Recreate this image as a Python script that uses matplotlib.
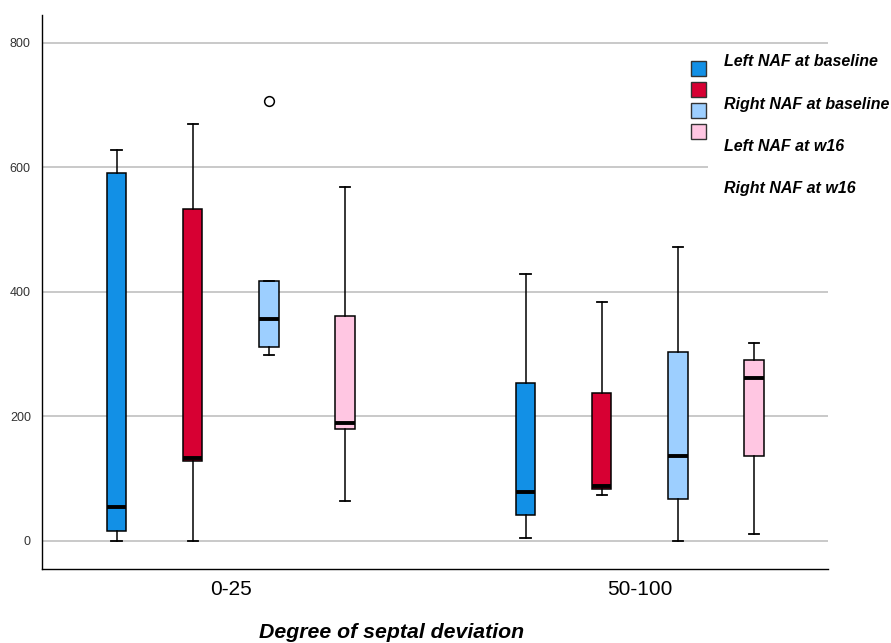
import matplotlib
matplotlib.use("Agg")
from matplotlib import pyplot as plt
import matplotlib.patches as patches

plt.rcParams['font.family'] = ['Liberation Sans', 'DejaVu Sans']

# groups and series
groups = ["0-25", "50-100"]
series = ["Left NAF at baseline", "Right NAF at baseline", "Left NAF at w16", "Right NAF at w16"]
colors = ["#1290e6", "#d70033", "#9dcfff", "#ffc6e2"]

# box stats per series, one value per group
whislo = [[0, 4], [0, 74], [298, 0], [64, 12]]
q1 = [[16, 41], [128, 83], [312, 68], [180, 137]]
med = [[55, 78], [134, 89], [357, 136], [189, 262]]
q3 = [[591, 253], [533, 237], [418, 304], [362, 290]]
whishi = [[628, 429], [670, 384], [418, 473], [568, 318]]
fliers = [[[], []], [[], []], [[707], []], [[], []]]

offsets = [-0.279, -0.093, 0.093, 0.279]
width = 0.047

fig = plt.figure(figsize=(8.91, 6.43), dpi=100)
ax = fig.add_axes([0.0471, 0.1151, 0.8822, 0.8616])

for i in range(len(series)):
    stats = []
    for g in range(len(groups)):
        stats.append({
            "whislo": whislo[i][g], "q1": q1[i][g], "med": med[i][g],
            "q3": q3[i][g], "whishi": whishi[i][g], "fliers": fliers[i][g],
        })
    pos = [g + offsets[i] for g in range(len(groups))]
    ax.bxp(stats, positions=pos, widths=width, patch_artist=True, showcaps=True,
           boxprops=dict(facecolor=colors[i], edgecolor="black", linewidth=1.1),
           medianprops=dict(color="black", linewidth=2.8),
           whiskerprops=dict(color="black", linewidth=1.1),
           capprops=dict(color="black", linewidth=1.3),
           capwidths=0.026,
           flierprops=dict(marker="o", markerfacecolor="white", markeredgecolor="black",
                           markersize=7, markeredgewidth=1.1),
           zorder=3)

ax.set_xlim(-0.462, 1.46)
ax.set_ylim(-45, 845)
ax.set_yticks([0, 200, 400, 600, 800])
ax.set_xticks(range(len(groups)))
ax.set_xticklabels(groups, fontsize=15)
ax.tick_params(axis="y", length=0, labelsize=9, labelcolor="#333333", pad=8)
ax.tick_params(axis="x", length=0, pad=8)
ax.yaxis.grid(True, color="#bbbbbb", linewidth=1.1, zorder=0)
ax.set_axisbelow(True)
for s in ["top", "right"]:
    ax.spines[s].set_visible(False)
for s in ["left", "bottom"]:
    ax.spines[s].set_linewidth(1.0)
    ax.spines[s].set_color("black")

# x axis title sits left of the axes centre in the original
fig.text(392 / 891, 1 - 632 / 643, "Degree of septal deviation", fontsize=15.3,
         fontweight="bold", fontstyle="italic", ha="center", va="center")

# legend area, drawn like the original
fig.patches.append(patches.Rectangle((708 / 891, 1 - 200 / 643), 183 / 891, 150 / 643,
                                     transform=fig.transFigure, facecolor="white",
                                     edgecolor="none", zorder=2))
for i, c in enumerate(colors[:4]):
    top = 61 + i * 21
    fig.patches.append(patches.Rectangle((691 / 891, 1 - (top + 15) / 643), 15 / 891, 15 / 643,
                                         transform=fig.transFigure, facecolor=c,
                                         edgecolor="#333333", linewidth=1.0, zorder=3))
for i, name in enumerate(series):
    fig.text(724 / 891, 1 - (62 + i * 42.3) / 643, name, fontsize=11.5, fontweight="bold",
             fontstyle="italic", va="center", ha="left", zorder=4)

fig.savefig("out.png", dpi=100)
